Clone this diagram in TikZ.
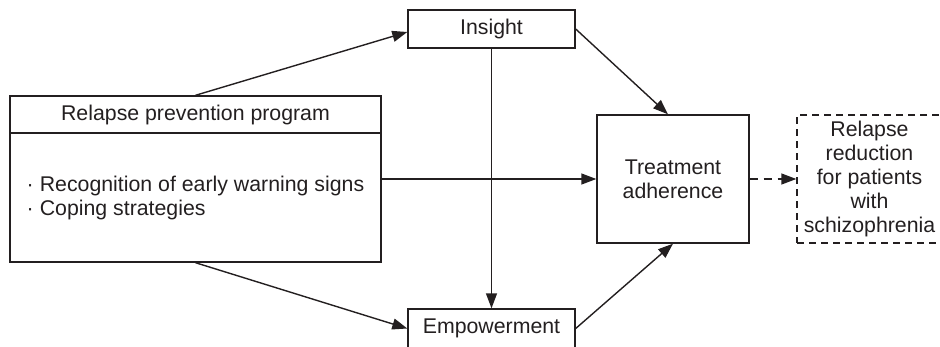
\documentclass[tikz,border=0pt]{standalone}
\usepackage{fontspec}
\setmainfont{Liberation Sans}
\usetikzlibrary{arrows.meta}
\definecolor{ink}{HTML}{231F20}
\begin{document}
\begin{tikzpicture}[x=1pt,y=-1pt,
  every node/.style={font=\fontsize{21.3}{24}\selectfont, text=ink},
  box/.style={draw=ink, line width=1.4pt, rectangle, inner sep=0pt, align=center},
  dbox/.style={box, dash pattern=on 7pt off 5pt},
  conn/.style={draw=ink, line width=1.4pt, -{Triangle[length=15pt,width=11pt]}},
  dconn/.style={conn, dash pattern=on 8pt off 6pt}]
\useasboundingbox (0,0) rectangle (940,346);
\node[box, minimum width=371pt, minimum height=37pt] (lefthead) at (195.5,114.5) {Relapse prevention program};
\node[box, minimum width=371pt, minimum height=129pt, align=left] (leftbody) at (195.5,197.5)
  {\textperiodcentered\hspace{6pt}Recognition of early warning signs\\ \textperiodcentered\hspace{6pt}Coping strategies};
\node[box, minimum width=167pt, minimum height=38pt] (insight) at (491.5,29) {Insight};
\node[box, minimum width=167pt, minimum height=39pt] (emp) at (491.5,328.5) {Empowerment};
\node[box, minimum width=152pt, minimum height=128pt] (treat) at (673,179) {Treatment\\adherence};
\node[dbox, minimum width=145pt, minimum height=128pt] (relapse) at (869.5,179) {Relapse\\reduction\\for patients\\with\\schizophrenia};
\draw[conn] (lefthead.north) -- ([yshift=-3pt]insight.west);
\draw[conn] (leftbody.south) -- (emp.west);
\draw[conn] (insight.south) -- (emp.north);
\draw[conn] (insight.east) -- ([xshift=-5pt]treat.north);
\draw[conn] (emp.east) -- (treat.south);
\draw[conn] (leftbody.east |- treat.west) -- (treat.west);
\draw[dconn] (treat.east) -- (relapse.west);
\end{tikzpicture}
\end{document}
